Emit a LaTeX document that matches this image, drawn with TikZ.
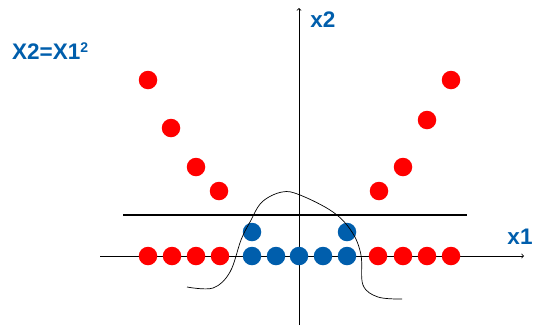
\documentclass[tikz,border=0pt]{standalone}
\usepackage{fontspec}
\setmainfont{Liberation Sans}
\definecolor{ptblue}{RGB}{0,94,172}
\definecolor{ptred}{RGB}{255,0,0}
\tikzset{
  dot/.style={circle, fill=#1, draw=none, inner sep=0pt, minimum size=18.5pt},
  lbl/.style={text=ptblue, font=\fontsize{22.5}{26}\selectfont\bfseries, inner sep=0pt}
}

\begin{document}
\begin{tikzpicture}[x=1pt,y=-1pt]
            \useasboundingbox (0,0) rectangle (536,325);
            \coordinate (xl) at (100,256);
            \coordinate (xr) at (524,256);
            \coordinate (yb) at (299,325);
            \coordinate (yt) at (299,8);
            \coordinate (hl) at (123,215);
            \coordinate (hr) at (467,215);
            \draw[->, line width=0.8pt] (xl) -- (xr);
            \draw[->, line width=0.8pt] (yb) -- (yt);
            \draw[line width=1.8pt] (hl) -- (hr);
            \node[lbl] (x1) at (520,237) {x1};
            \node[lbl] (x2) at (323,20) {x2};
            \node[lbl, anchor=west] (eq) at (12,51) {X2=X1\raisebox{0.3em}{\fontsize{14}{15}\selectfont 2}};
            % points on the x1 axis
            \foreach \n/\x in {r1/148, r2/172, r3/196, r4/220, r5/378, r6/403, r7/427, r8/451}
            \node[dot=ptred] (\n) at (\x,256) {};
            \foreach \n/\x in {b1/252, b2/276, b3/299, b4/323, b5/347}
            \node[dot=ptblue] (\n) at (\x,256) {};
            % mapped points
            \foreach \n/\x/\y in {u1/148/80, u2/171/128, u3/196/167, u4/219/191, u5/379/191, u6/403/167, u7/427/120, u8/451/80}
            \node[dot=ptred] (\n) at (\x,\y) {};
            \node[dot=ptblue] (c1) at (252,232) {};
            \node[dot=ptblue] (c2) at (347,232) {};
            % boundary
            \draw[line width=0.7pt] plot[smooth, tension=0.6] coordinates {(187,287) (213,288) (230,272) (241,240) (250,222) (262,202) (282,192) (300,195) (333,212) (352,232) (361,255) (363,285) (378,297) (402,299)};
        \end{tikzpicture}
\end{document}
